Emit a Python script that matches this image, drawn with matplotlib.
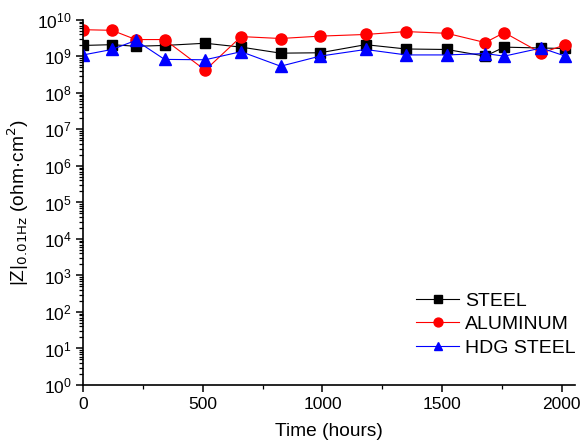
import matplotlib

matplotlib.use("Agg")
import matplotlib.pyplot as plt
import numpy as np
from matplotlib.ticker import LogLocator, MultipleLocator, NullFormatter

plt.rcParams["font.family"] = ["Liberation Sans", "DejaVu Sans"]

hours = [0, 120, 220, 340, 510, 660, 825, 990, 1180, 1350, 1520, 1680, 1760, 1915, 2015]
steel = [2.0e9, 2.1e9, 1.9e9, 2.0e9, 2.3e9, 1.8e9, 1.23e9, 1.26e9, 2.1e9, 1.6e9,
         1.55e9, 1.02e9, 1.8e9, 1.7e9, 1.65e9]
aluminum = [5.4e9, 5.2e9, 2.9e9, 2.9e9, 4.2e8, 3.5e9, 3.1e9, 3.6e9, 4.0e9, 4.8e9,
            4.3e9, 2.4e9, 4.5e9, 1.23e9, 2.1e9]
hdg_steel = [1.1e9, 1.55e9, 2.75e9, 8.3e8, 8.1e8, 1.35e9, 5.4e8, 1.02e9, 1.55e9, 1.1e9,
             1.1e9, 1.2e9, 1.02e9, 1.7e9, 1.02e9]

fig = plt.figure(figsize=(5.86, 4.43), dpi=100)
ax = fig.add_axes([0.142, 0.131, 0.839, 0.824])

ax.plot(hours, steel, color="black", lw=0.8, marker="s", ms=7, label="STEEL")
ax.plot(hours, aluminum, color="red", lw=0.8, marker="o", ms=8, label="ALUMINUM")
ax.plot(hours, hdg_steel, color="blue", lw=0.8, marker="^", ms=8, label="HDG STEEL")

ax.set_yscale("log")
ax.set_ylim(1, 1e10)
ax.set_xlim(0, 2055)
ax.yaxis.set_major_locator(LogLocator(base=10, numticks=20))
ax.yaxis.set_minor_locator(LogLocator(base=10, subs=np.arange(2, 10), numticks=100))
ax.yaxis.set_minor_formatter(NullFormatter())
ax.xaxis.set_major_locator(MultipleLocator(500))
ax.xaxis.set_minor_locator(MultipleLocator(250))

for side in ["top", "right"]:
    ax.spines[side].set_visible(False)
ax.spines["left"].set_linewidth(1.2)
ax.spines["bottom"].set_linewidth(1.2)
ax.tick_params(which="major", direction="out", length=5, width=1.1, labelsize=12.5)
ax.tick_params(which="minor", direction="out", length=3, width=0.9)

ax.set_xlabel("Time (hours)", fontsize=13.8, labelpad=8)
ax.set_ylabel("|Z|$_{\\mathrm{0.01Hz}}$ (ohm·cm$^2$)", fontsize=13.8)

leg = ax.legend(loc="lower right", bbox_to_anchor=(1.037, 0.03), frameon=False,
                fontsize=14, handlelength=2.2, labelspacing=0.3, handletextpad=0.3,
                markerscale=0.8)

fig.savefig("out.png", dpi=100)
